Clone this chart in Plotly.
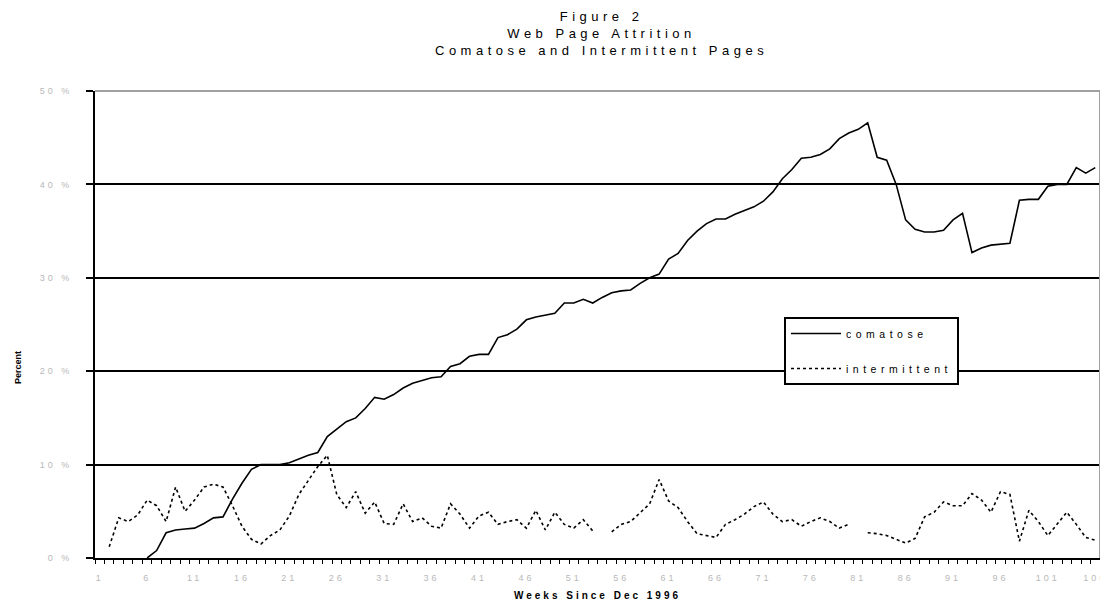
import plotly.graph_objects as go

weeks = list(range(1, 107))

comatose = [None, None, None, None, None,
            0.0, 0.8, 2.7, 3.0, 3.1, 3.2, 3.7, 4.3, 4.4, 6.3,
            8.0, 9.5, 10.0, 10.0, 10.0, 10.2, 10.6, 11.0, 11.3, 13.0,
            13.8, 14.6, 15.0, 16.0, 17.2, 17.0, 17.5, 18.2, 18.7, 19.0,
            19.3, 19.4, 20.5, 20.8, 21.6, 21.8, 21.8, 23.6, 23.9, 24.5,
            25.5, 25.8, 26.0, 26.2, 27.3, 27.3, 27.7, 27.3, 27.9, 28.4,
            28.6, 28.7, 29.4, 30.0, 30.4, 32.0, 32.6, 34.0, 35.0, 35.8,
            36.3, 36.3, 36.8, 37.2, 37.6, 38.2, 39.2, 40.6, 41.6, 42.8,
            42.9, 43.2, 43.8, 44.9, 45.5, 45.9, 46.6, 42.9, 42.6, 40.0,
            36.2, 35.2, 34.9, 34.9, 35.1, 36.2, 36.9, 32.7, 33.2, 33.5,
            33.6, 33.7, 38.3, 38.4, 38.4, 39.8, 40.0, 40.0, 41.8, 41.2,
            41.8]

intermittent = [None, 1.2, 4.3, 3.9, 4.6, 6.2, 5.6, 3.9, 7.6, 5.0,
                6.2, 7.6, 7.9, 7.6, 5.6, 3.4, 2.0, 1.5, 2.4, 3.0,
                4.5, 6.8, 8.3, 9.8, 11.0, 6.8, 5.4, 7.1, 4.8, 6.0,
                3.7, 3.6, 5.8, 3.9, 4.3, 3.4, 3.2, 5.8, 4.7, 3.2,
                4.5, 4.9, 3.6, 3.9, 4.1, 3.2, 5.1, 3.0, 4.9, 3.6,
                3.2, 4.1, 2.9, None, 2.8, 3.6, 3.9, 4.9, 5.8, 8.4,
                6.1, 5.4, 3.9, 2.6, 2.4, 2.2, 3.6, 4.1, 4.7, 5.5,
                6.0, 4.7, 3.9, 4.1, 3.4, 3.9, 4.3, 3.9, 3.2, 3.6,
                None, 2.7, 2.6, 2.4, 2.0, 1.6, 2.1, 4.4, 4.9, 6.0,
                5.6, 5.6, 6.9, 6.2, 4.9, 7.1, 6.8, 1.8, 5.1, 3.9,
                2.4, 3.6, 4.9, 3.6, 2.2, 1.9]

x_tick_vals = list(range(1, 107, 5))
x_tick_text = [str(v) for v in x_tick_vals]
y_tick_vals = [0, 10, 20, 30, 40, 50]
y_tick_text = [f"{v} %" for v in y_tick_vals]

title_lines = ["Figure 2", "Web Page Attrition", "Comatose and Intermittent Pages"]


def spaced(s, px):
    return f'<span style="letter-spacing:{px}px">{s}</span>'


fig = go.Figure()
fig.add_trace(go.Scatter(x=weeks, y=comatose, mode="lines", name=spaced("comatose", 4.5),
                         line=dict(color="black", width=1.6), legendgroup="a",
                         connectgaps=False))
fig.add_trace(go.Scatter(x=weeks, y=intermittent, mode="lines", name=spaced("intermittent", 4.5),
                         line=dict(color="black", width=1.6, dash="dot"), legendgroup="b",
                         connectgaps=False))

# The page body has an 8px margin, so the figure is sized to fit the window.
fig.update_layout(
    width=1100, height=596,
    margin=dict(l=87, r=8, t=83, b=46, autoexpand=False),
    paper_bgcolor="white", plot_bgcolor="white",
    font=dict(family="Liberation Sans, Arial, sans-serif", color="black"),
    showlegend=True,
    legend=dict(x=(784 - 95) / 1005, y=(558 - 317) / 467, xanchor="left", yanchor="top",
                bgcolor="white", bordercolor="black", borderwidth=2,
                font=dict(size=10.5, color="black"), tracegroupgap=16,
                traceorder="grouped", itemwidth=50),
    xaxis=dict(range=[0.5, 106.5], tickmode="array", tickvals=x_tick_vals,
               ticktext=[spaced(t, 3) for t in x_tick_text], ticks="",
               tickfont=dict(size=9, color="#b8b8b8"), ticklabelstandoff=10,
               showgrid=False, zeroline=False, showline=True, linecolor="black",
               linewidth=2, automargin=False,
               minor=dict(tickmode="linear", tick0=0.5, dtick=1, ticks="outside",
                          ticklen=4, tickwidth=1, tickcolor="black", showgrid=False),
               title=dict(text=spaced("<b>Weeks Since Dec 1996</b>", 3),
                          font=dict(size=10, color="black"), standoff=10)),
    yaxis=dict(range=[0, 50], tickmode="array", tickvals=y_tick_vals,
               ticktext=[spaced(t, 3) for t in y_tick_text], ticks="outside",
               ticklen=7, tickwidth=2, tickcolor="black",
               tickfont=dict(size=9, color="#b8b8b8"), ticklabelstandoff=12,
               showgrid=True, gridcolor="black", gridwidth=2, zeroline=False,
               showline=True, linecolor="black", linewidth=2, automargin=False),
    annotations=[
        dict(text="<br>".join(spaced(t, 4.5) for t in title_lines),
             xref="paper", yref="paper", x=(601 - 95) / 1005, y=1 + 84 / 467,
             xanchor="center", yanchor="top", showarrow=False,
             font=dict(size=13, color="black")),
        dict(text="<b>Percent</b>", textangle=-90,
             xref="paper", yref="paper", x=-77 / 1005, y=(558 - 368) / 467,
             xanchor="center", yanchor="middle", showarrow=False,
             font=dict(size=9, color="black")),
    ],
    shapes=[
        dict(type="line", xref="paper", yref="paper", x0=0, x1=1, y0=1, y1=1,
             line=dict(color="#a0a0a0", width=2), layer="above"),
        dict(type="line", xref="paper", yref="paper", x0=1, x1=1, y0=0, y1=1,
             line=dict(color="#a0a0a0", width=2), layer="above"),
    ],
)

fig.write_html("out.html")
